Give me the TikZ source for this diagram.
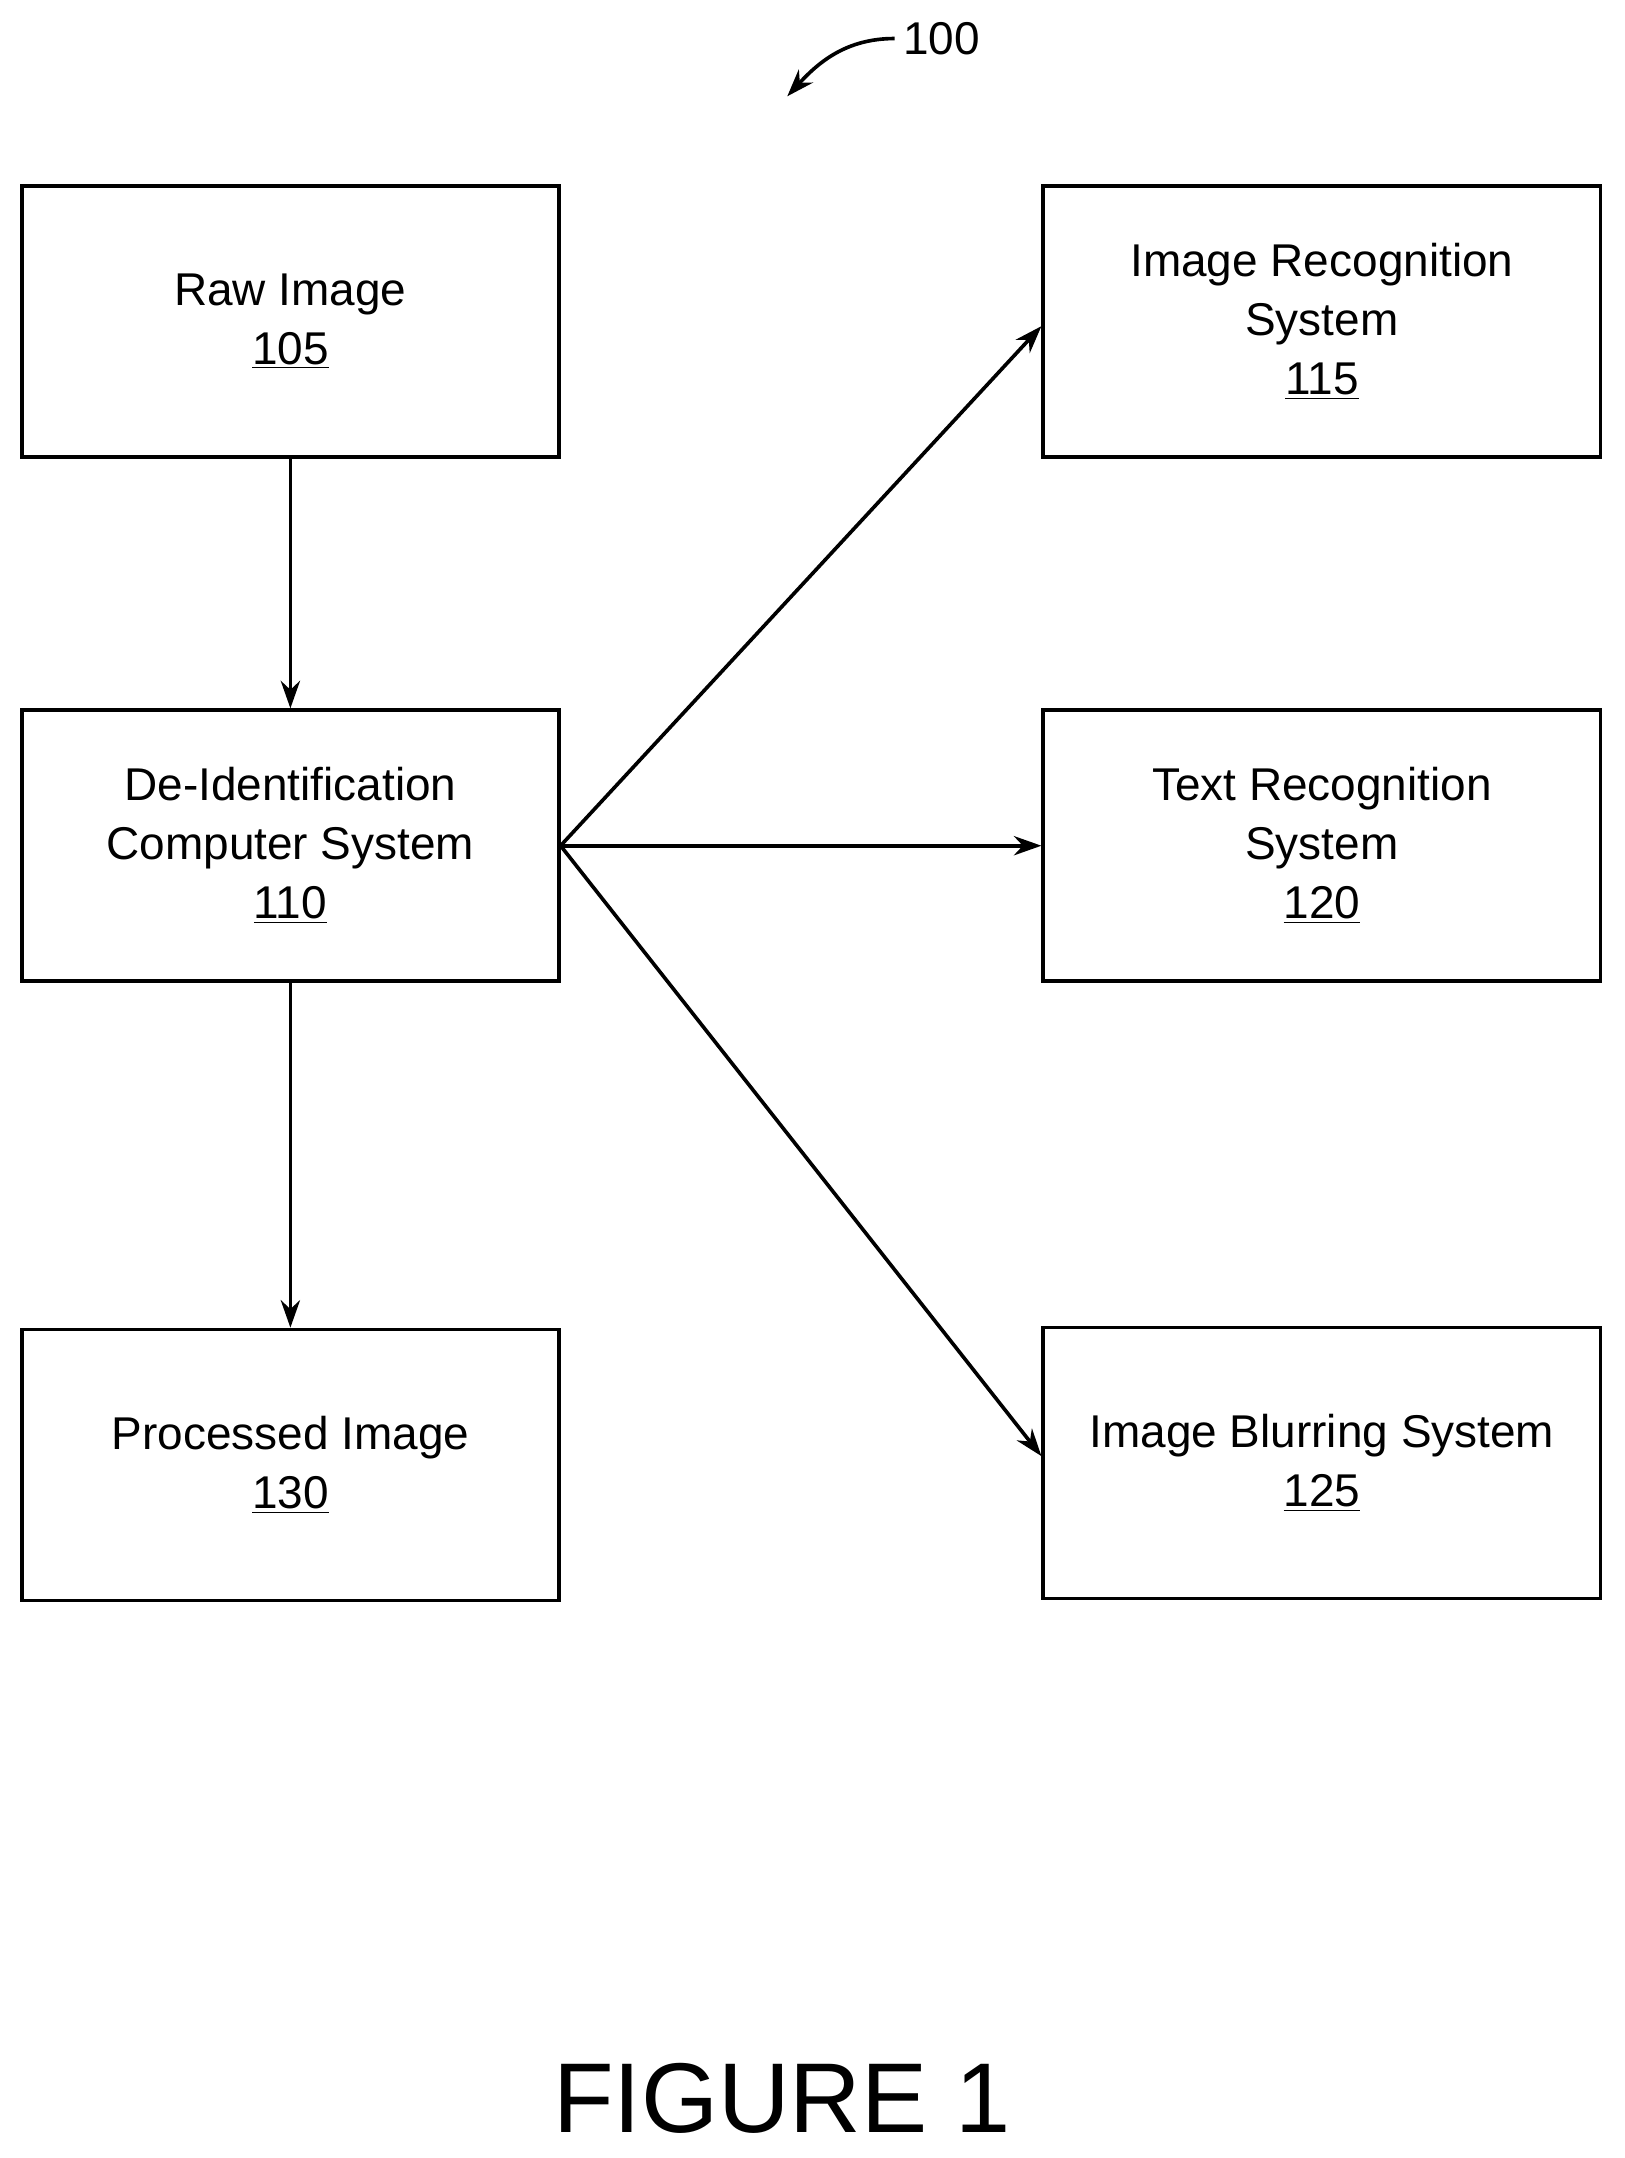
\documentclass[tikz,border=0pt]{standalone}
\usepackage{fontspec}
\setmainfont{Liberation Sans}
\usetikzlibrary{positioning}
\usetikzlibrary{arrows.meta}

\tikzset{
	blk/.style = {draw, line width = 1.5pt, rectangle, minimum width = 7.8cm, minimum height = 3.94cm, align = center, font = \fontsize{19}{24.4}\selectfont, inner sep = 0pt},
	flow/.style = {line width = 1.5pt, -{Stealth[length = 0.4cm, width = 0.28cm]}}
}

\begin{document}
\begin{tikzpicture}
		\useasboundingbox (0,0) rectangle (23.6,-31.36);
		\node[blk] at (4.22,-4.67) (raw)
		{Raw Image\\\underline{105}};
		\node[blk] at (4.22,-12.29) (deid)
		{De-Identification\\Computer System\\\underline{110}};
		\node[blk] at (4.22,-21.29) (proc)
		{Processed Image\\\underline{130}};
		\node[blk, minimum width = 8.1cm] at (19.21,-4.67) (irs)
		{Image Recognition\\System\\\underline{115}};
		\node[blk, minimum width = 8.1cm] at (19.21,-12.29) (trs)
		{Text Recognition\\System\\\underline{120}};
		\node[blk, minimum width = 8.1cm] at (19.21,-21.26) (ibs)
		{Image Blurring System\\\underline{125}};

		\coordinate (src) at (deid.east);

		\draw[flow] (raw) -- (deid);
		\draw[flow] (deid) -- (proc);
		\draw[flow] (src) -- ([yshift = -0.07cm]irs.west);
		\draw[flow] (src) -- (trs.west);
		\draw[flow] (src) -- ([yshift = 0.1cm]ibs.west);

		% reference numeral
		\node[font = \fontsize{19}{24}\selectfont, anchor = west] at (13.0,-0.56) (ref) {100};
		\coordinate (reftip) at (11.44,-1.4);
		\draw[line width = 1.5pt, -{Stealth[length = 0.4cm, width = 0.28cm]}] (ref.west) .. controls (12.3,-0.56) and (11.9,-0.9) .. (reftip);

		\node[font = \fontsize{41}{48}\selectfont] at (11.36,-30.5) (fig) {FIGURE 1};
	\end{tikzpicture}
\end{document}
